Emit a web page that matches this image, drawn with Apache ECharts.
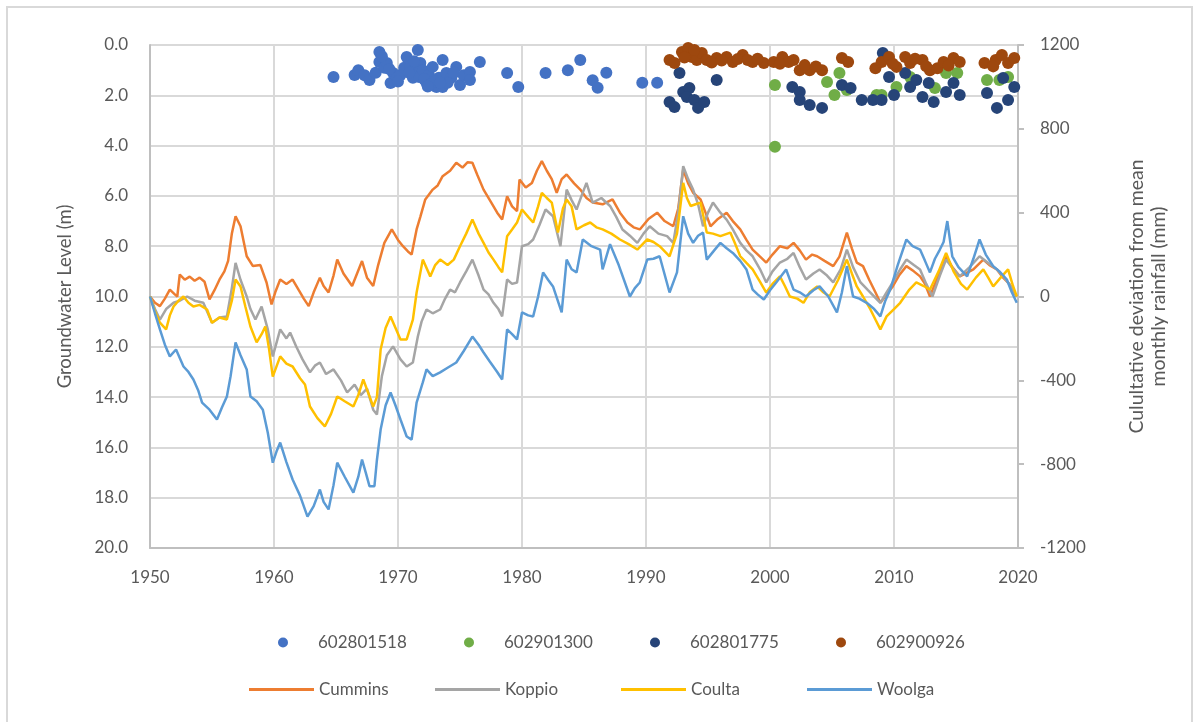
<!DOCTYPE html>
<html>
<head>
<meta charset="utf-8">
<title>Groundwater level and cumulative rainfall deviation</title>
<script src="https://cdn.jsdelivr.net/npm/echarts@6/dist/echarts.min.js"></script>
<style>
  html, body { margin: 0; padding: 0; background: #ffffff; }
  #chart { width: 1194px; height: 722px; }
</style>
</head>
<body>
<div id="chart"></div>
<script>
// Decade ticks on the time axis
const yearTicks = [1950, 1960, 1970, 1980, 1990, 2000, 2010, 2020];

// Observation bores: [year, depth to groundwater (m)]
const bore602801518 = [
  [1964.8,1.27],[1966.5,1.19],[1966.8,1.0],[1967.3,1.2],[1967.7,1.39],[1968.2,1.1],[1968.5,0.28],[1968.5,0.68],
  [1968.9,0.9],[1969.1,0.72],[1969.4,1.51],[1969.6,1.11],[1969.9,1.3],[1970.2,1.19],[1970.5,0.9],[1970.7,0.48],
  [1971.0,0.87],[1971.2,1.3],[1971.4,1.0],[1971.6,0.2],[1971.8,0.72],[1971.7,1.27],[1972.0,1.0],[1972.3,1.51],
  [1972.5,1.2],[1972.8,0.87],[1973.1,1.67],[1973.3,1.3],[1973.6,0.6],[1973.6,1.67],[1973.9,1.11],[1974.3,1.3],
  [1974.7,0.87],[1975.0,1.59],[1975.3,1.2],[1975.8,1.07],[1975.8,1.39],[1976.6,0.68],[1978.8,1.11],[1979.7,1.67],
  [1981.9,1.11],[1983.7,1.0],[1984.7,0.6],[1985.7,1.4],[1986.1,1.7],[1986.8,1.1],[1989.7,1.5],[1990.9,1.5],
  [1968.7,0.45],[1970.0,1.45],[1970.9,1.1],[1972.1,1.35],[1972.6,1.55],[1973.0,1.45],[1974.0,1.5],[1974.5,1.1],
  [1969.3,0.95],[1971.3,0.65],[1972.4,1.65],[1973.4,1.5]
];
const bore602901300 = [
  [2000.4,1.59],[2000.4,4.05],[2004.6,1.47],[2005.2,1.99],[2005.6,1.11],[2006.2,1.79],[2008.6,1.99],[2009.0,1.99],
  [2010.2,1.67],[2011.3,1.27],[2013.3,1.71],[2014.2,1.11],[2015.1,1.11],[2017.5,1.39],[2018.5,1.39],[2019.2,1.27]
];
const bore602801775 = [
  [1992.7,1.11],[1991.9,2.27],[1992.3,2.47],[1993.0,1.87],[1993.5,1.71],[1993.3,2.07],[1993.9,2.19],[1994.2,2.5],
  [1994.7,2.27],[1995.7,1.39],[2001.8,1.67],[2002.4,1.87],[2002.4,2.19],[2003.2,2.39],[2004.2,2.5],[2005.8,1.59],
  [2006.5,1.71],[2007.4,2.19],[2008.3,2.19],[2009.0,2.19],[2009.1,0.32],[2009.6,1.27],[2010.0,1.99],[2010.9,1.11],
  [2011.3,1.67],[2011.8,1.39],[2012.3,2.07],[2012.8,1.51],[2013.2,2.27],[2014.2,1.87],[2014.8,1.51],[2015.3,1.99],
  [2017.5,1.91],[2018.3,2.5],[2018.8,1.31],[2019.2,2.19],[2019.7,1.67]
];
const bore602900926 = [
  [1991.9,0.6],[1992.3,0.72],[1992.9,0.28],[1993.4,0.12],[1993.7,0.48],[1994.1,0.6],[1994.5,0.32],[1994.9,0.6],
  [1995.7,0.52],[1996.5,0.48],[1997.0,0.68],[1997.8,0.4],[1998.6,0.68],[1999.5,0.72],[2000.3,0.68],[2001.0,0.48],
  [2001.5,0.68],[2001.9,0.6],[2002.4,1.0],[2003.2,1.0],[2004.2,1.0],[2005.8,0.52],[2006.3,0.68],[2008.5,0.92],
  [2009.0,0.68],[2009.6,0.48],[2010.2,0.87],[2010.9,0.48],[2011.3,0.72],[2012.3,0.6],[2012.9,1.0],[2013.5,0.92],
  [2014.0,0.68],[2014.8,0.52],[2015.3,0.68],[2017.3,0.72],[2018.2,0.6],[2018.7,0.4],[2019.2,0.72],[2019.7,0.52],
  [1993.1,0.5],[1993.9,0.2],[1995.3,0.7],[1996.1,0.62],[1997.4,0.56],[1998.2,0.6],[1999.0,0.55],[2000.8,0.75],
  [2002.8,0.8],[2003.7,0.85],[2009.9,0.75],[2011.7,0.55],[2012.6,0.85],[2014.4,0.82],[2018.0,0.85]
];

// Rainfall stations: [year, cumulative deviation from mean monthly rainfall (mm)]
const cummins = [
  [1950.0,0],[1950.4,-30],[1950.8,-46],[1951.2,-10],[1951.6,33],[1952.0,10],[1952.2,0],[1952.4,105],[1952.8,80],
  [1953.2,95],[1953.6,75],[1954.0,90],[1954.4,70],[1954.8,-14],[1955.2,30],[1955.6,80],[1956.0,120],[1956.3,170],
  [1956.6,300],[1956.9,383],[1957.3,335],[1957.8,192],[1958.3,145],[1958.9,150],[1959.4,67],[1959.8,-38],[1960.1,20],
  [1960.5,81],[1961.0,60],[1961.5,81],[1962.0,30],[1962.4,-10],[1962.8,-46],[1963.2,20],[1963.7,90],[1964.0,50],
  [1964.4,19],[1964.8,100],[1965.1,176],[1965.6,110],[1966.3,50],[1966.7,110],[1967.1,169],[1967.5,90],[1968.0,50],
  [1968.4,150],[1968.9,256],[1969.5,320],[1970.0,270],[1970.4,240],[1970.8,215],[1971.1,200],[1971.5,320],[1971.8,380],
  [1972.2,463],[1972.8,510],[1973.2,530],[1973.6,574],[1974.2,600],[1974.7,638],[1975.2,615],[1975.6,640],[1976.0,638],
  [1976.4,580],[1976.9,510],[1977.5,450],[1978.0,400],[1978.4,367],[1978.8,478],[1979.2,430],[1979.6,407],[1979.8,558],
  [1980.3,520],[1980.8,542],[1981.2,600],[1981.6,646],[1982.0,600],[1982.4,560],[1982.8,495],[1983.2,560],[1983.6,582],
  [1984.2,540],[1984.7,510],[1985.2,470],[1985.7,448],[1986.5,440],[1987.3,463],[1987.9,400],[1988.5,353],[1989.0,330],
  [1989.5,320],[1990.2,370],[1990.9,400],[1991.5,360],[1992.2,335],[1992.6,420],[1993.0,606],[1993.4,540],[1993.8,495],
  [1994.4,463],[1994.8,400],[1995.2,335],[1995.8,370],[1996.5,400],[1997.0,360],[1997.6,320],[1998.1,270],[1998.6,224],
  [1999.2,190],[1999.7,162],[2000.2,200],[2000.8,240],[2001.4,230],[2001.9,256],[2002.4,220],[2002.9,176],[2003.4,200],
  [2003.8,192],[2004.4,170],[2005.1,145],[2005.6,190],[2006.2,305],[2006.6,230],[2007.0,162],[2007.5,145],[2008.0,80],
  [2008.5,20],[2008.9,-30],[2009.4,10],[2009.9,48],[2010.4,100],[2011.0,145],[2011.6,120],[2012.1,96],[2012.5,60],
  [2012.9,0],[2013.5,90],[2014.2,192],[2014.7,140],[2015.3,96],[2015.8,110],[2016.4,129],[2017.2,176],[2017.7,150],
  [2018.3,129],[2018.8,90],[2019.3,60],[2019.9,0]
];
const koppio = [
  [1950.0,0],[1950.4,-60],[1950.8,-110],[1951.3,-60],[1951.9,-30],[1952.4,-20],[1953.0,0],[1953.6,-20],[1954.3,-30],
  [1955.0,-125],[1955.6,-100],[1956.2,-95],[1956.6,40],[1956.9,160],[1957.3,80],[1957.8,0],[1958.1,-60],[1958.5,-110],
  [1959.0,-48],[1959.5,-157],[1959.9,-286],[1960.5,-157],[1961.0,-200],[1961.3,-172],[1961.8,-240],[1962.3,-300],
  [1962.9,-362],[1963.3,-330],[1963.7,-315],[1964.2,-370],[1964.8,-348],[1965.4,-400],[1965.9,-458],[1966.5,-420],
  [1967.0,-470],[1967.5,-440],[1968.0,-540],[1968.3,-563],[1968.7,-380],[1969.1,-280],[1969.6,-238],[1970.2,-300],
  [1970.7,-334],[1971.2,-315],[1971.6,-191],[1971.9,-120],[1972.3,-62],[1972.8,-80],[1973.4,-62],[1973.8,-10],
  [1974.2,33],[1974.6,20],[1975.0,67],[1975.5,120],[1976.0,176],[1976.5,100],[1976.9,33],[1977.3,10],[1977.7,-30],
  [1978.1,-60],[1978.4,-95],[1978.8,81],[1979.2,60],[1979.6,67],[1980.0,240],[1980.5,250],[1980.9,272],[1981.4,340],
  [1981.9,415],[1982.5,383],[1983.1,240],[1983.6,510],[1984.0,460],[1984.4,415],[1984.8,480],[1985.2,542],[1985.7,448],
  [1986.4,470],[1987.1,432],[1987.6,380],[1988.1,320],[1988.7,290],[1989.3,256],[1989.8,300],[1990.3,335],[1991.0,300],
  [1991.7,288],[1992.2,256],[1992.6,400],[1993.0,622],[1993.4,560],[1993.8,510],[1994.2,440],[1994.6,335],[1995.0,400],
  [1995.4,448],[1996.0,400],[1996.5,367],[1997.0,320],[1997.6,256],[1998.1,220],[1998.6,192],[1999.2,130],[1999.7,67],
  [2000.2,120],[2000.8,162],[2001.4,180],[2001.9,208],[2002.4,140],[2002.9,81],[2003.5,110],[2004.0,129],[2004.6,100],
  [2005.1,67],[2005.7,130],[2006.2,224],[2006.7,140],[2007.3,67],[2007.9,30],[2008.4,0],[2008.9,-30],[2009.4,20],
  [2009.9,67],[2010.5,130],[2011.0,176],[2011.6,150],[2012.1,129],[2012.6,60],[2013.1,0],[2013.7,100],[2014.2,176],
  [2014.8,130],[2015.3,96],[2016.1,140],[2016.9,192],[2017.6,160],[2018.3,129],[2018.9,90],[2019.4,50],[2019.9,0]
];
const coulta = [
  [1950.0,0],[1950.4,-70],[1950.8,-125],[1951.3,-157],[1951.6,-90],[1951.9,-48],[1952.3,-20],[1952.7,0],[1953.1,-30],
  [1953.5,-48],[1954.0,-40],[1954.6,-62],[1955.0,-125],[1955.6,-100],[1956.2,-110],[1956.6,-20],[1956.9,81],[1957.3,48],
  [1957.7,-50],[1958.1,-143],[1958.6,-219],[1959.0,-180],[1959.3,-143],[1959.6,-250],[1959.9,-382],[1960.5,-286],
  [1961.0,-320],[1961.5,-334],[1962.1,-390],[1962.5,-420],[1962.9,-525],[1963.5,-580],[1964.1,-620],[1964.6,-560],
  [1965.1,-477],[1965.7,-500],[1966.4,-525],[1966.8,-470],[1967.2,-396],[1967.6,-460],[1968.0,-525],[1968.3,-480],
  [1968.6,-253],[1969.0,-150],[1969.4,-95],[1969.8,-150],[1970.2,-205],[1970.7,-205],[1971.2,-110],[1971.5,19],
  [1972.0,176],[1972.6,96],[1973.0,150],[1973.4,176],[1974.0,150],[1974.5,176],[1975.0,240],[1975.5,300],[1976.0,367],
  [1976.5,300],[1976.9,256],[1977.3,210],[1977.7,176],[1978.1,140],[1978.4,115],[1978.8,288],[1979.2,320],[1979.6,353],
  [1980.0,415],[1980.5,380],[1980.9,353],[1981.3,430],[1981.6,495],[1982.0,470],[1982.4,448],[1982.9,305],[1983.3,420],
  [1983.6,463],[1984.0,430],[1984.4,320],[1985.0,340],[1985.5,353],[1986.0,330],[1986.5,320],[1987.2,300],[1987.9,272],
  [1988.6,250],[1989.3,224],[1990.1,272],[1990.6,260],[1991.1,240],[1991.9,192],[1992.5,300],[1993.0,542],[1993.3,470],
  [1993.6,432],[1994.0,440],[1994.4,448],[1994.9,305],[1995.4,300],[1996.0,288],[1996.8,305],[1997.2,250],[1997.6,192],
  [1998.1,160],[1998.6,129],[1999.2,70],[1999.7,19],[2000.2,60],[2000.8,96],[2001.2,50],[2001.6,0],[2002.2,-10],
  [2002.7,-30],[2003.2,20],[2003.8,48],[2004.3,20],[2004.8,0],[2005.5,80],[2006.2,176],[2006.6,110],[2007.0,48],
  [2007.5,0],[2008.1,-62],[2008.5,-110],[2008.9,-157],[2009.4,-95],[2010.0,-60],[2010.5,-30],[2011.2,30],[2011.8,67],
  [2012.4,50],[2012.9,33],[2013.6,120],[2014.2,208],[2014.8,120],[2015.4,60],[2015.9,33],[2016.6,90],[2017.2,129],
  [2017.6,90],[2018.0,48],[2018.6,90],[2019.2,129],[2019.6,50],[2019.9,0]
];
const woolga = [
  [1950.0,0],[1950.4,-80],[1950.8,-157],[1951.2,-230],[1951.6,-286],[1952.1,-253],[1952.7,-334],[1953.1,-360],
  [1953.5,-396],[1953.9,-450],[1954.2,-506],[1954.8,-540],[1955.4,-587],[1955.8,-530],[1956.2,-477],[1956.5,-380],
  [1956.9,-219],[1957.3,-280],[1957.8,-348],[1958.1,-477],[1958.6,-500],[1959.1,-540],[1959.5,-650],[1959.9,-793],
  [1960.2,-740],[1960.5,-697],[1961.0,-790],[1961.5,-873],[1962.1,-950],[1962.7,-1050],[1963.2,-1000],[1963.7,-921],
  [1964.0,-980],[1964.4,-1016],[1964.8,-900],[1965.1,-793],[1965.7,-860],[1966.4,-936],[1966.8,-860],[1967.1,-778],
  [1967.4,-840],[1967.7,-905],[1968.1,-905],[1968.3,-780],[1968.6,-635],[1969.0,-520],[1969.4,-458],[1969.8,-520],
  [1970.2,-587],[1970.7,-668],[1971.1,-683],[1971.5,-506],[1972.0,-410],[1972.3,-348],[1972.8,-380],[1973.4,-362],
  [1974.0,-340],[1974.7,-315],[1975.3,-260],[1976.0,-191],[1976.5,-230],[1976.9,-267],[1977.4,-310],[1978.0,-360],
  [1978.4,-396],[1978.8,-157],[1979.2,-180],[1979.6,-205],[1980.0,-76],[1980.5,-90],[1980.9,-95],[1981.3,0],
  [1981.7,115],[1982.1,80],[1982.5,48],[1983.2,-76],[1983.6,176],[1984.0,130],[1984.4,115],[1984.9,272],[1985.6,240],
  [1986.3,224],[1986.5,129],[1987.1,250],[1987.8,150],[1988.7,0],[1989.1,40],[1989.5,67],[1990.1,176],[1990.6,180],
  [1991.1,192],[1991.9,19],[1992.5,115],[1993.0,383],[1993.4,300],[1993.8,256],[1994.2,290],[1994.6,305],[1994.9,176],
  [1995.5,220],[1996.0,256],[1996.5,230],[1997.0,208],[1997.6,170],[1998.1,129],[1998.6,33],[1999.0,10],[1999.5,-14],
  [2000.0,30],[2000.5,67],[2001.3,129],[2001.9,33],[2002.4,20],[2002.9,0],[2003.5,30],[2004.0,48],[2004.7,0],
  [2005.4,-76],[2005.8,20],[2006.2,145],[2006.7,0],[2007.2,-10],[2007.8,-30],[2008.4,-60],[2008.9,-95],[2009.3,-20],
  [2009.7,33],[2010.3,150],[2011.0,272],[2011.5,240],[2012.1,224],[2012.5,170],[2012.9,115],[2013.3,180],[2013.7,224],
  [2014.0,260],[2014.3,360],[2014.7,192],[2015.2,140],[2015.9,96],[2016.4,180],[2016.9,272],[2017.4,200],[2018.0,145],
  [2018.5,120],[2019.1,81],[2019.5,20],[2019.9,-30]
];

const boreNames = ['602801518', '602901300', '602801775', '602900926'];
const stationNames = ['Cummins', 'Koppio', 'Coulta', 'Woolga'];
const boreColors = ['#4472C4', '#70AD47', '#264478', '#9E480E'];
const stationColors = ['#ED7D31', '#A5A5A5', '#FFC000', '#5B9BD5'];

const FONT = 'Lato, "Open Sans", sans-serif';
const TEXT = '#595959';
const GRID = '#D9D9D9';
const AXIS = '#BFBFBF';

const chart = echarts.init(document.getElementById('chart'), null, { renderer: 'canvas' });

const boreData = [bore602801518, bore602901300, bore602801775, bore602900926];
const stationData = [cummins, koppio, coulta, woolga];

const lineSeries = stationNames.map((name, i) => ({
  name, type: 'line', yAxisIndex: 1, data: stationData[i],
  showSymbol: false, smooth: false, z: 2,
  lineStyle: { color: stationColors[i], width: 2.5 },
  itemStyle: { color: stationColors[i] }
}));
const scatterSeries = boreNames.map((name, i) => ({
  name, type: 'scatter', yAxisIndex: 0, data: boreData[i],
  symbol: 'circle', symbolSize: 12, z: 3,
  itemStyle: { color: boreColors[i], opacity: 1 }
}));

// One legend per entry so every item sits on its own fixed slot
const boreLegends = boreNames.map((name, i) => ({
  data: [name], left: 273 + i * 186, top: 629, icon: 'circle',
  itemWidth: 10, itemHeight: 10, selectedMode: false,
  textStyle: { color: TEXT, fontSize: 17, fontFamily: FONT, padding: [0, 0, 0, 25] }
}));
const stationLegends = stationNames.map((name, i) => ({
  data: [name], left: 244 + i * 186, top: 676, icon: 'rect',
  itemWidth: 65, itemHeight: 3, selectedMode: false,
  textStyle: { color: TEXT, fontSize: 17, fontFamily: FONT }
}));

chart.setOption({
  animation: false,
  backgroundColor: '#ffffff',
  textStyle: { fontFamily: FONT },
  grid: { left: 150, right: 176, top: 45, bottom: 174, containLabel: false },
  xAxis: {
    type: 'value', min: yearTicks[0], max: yearTicks[yearTicks.length - 1], interval: 10,
    axisLine: { show: true, onZero: false, lineStyle: { color: AXIS, width: 2 } },
    axisTick: { show: false },
    splitLine: { show: true, lineStyle: { color: GRID, width: 2 } },
    axisLabel: { color: TEXT, fontSize: 17, fontFamily: FONT, margin: 21, formatter: v => String(v) }
  },
  yAxis: [
    {
      type: 'value', inverse: true, min: 0, max: 20, interval: 2, position: 'left',
      name: 'Groundwater Level (m)', nameLocation: 'middle', nameRotate: 90, nameGap: 75,
      nameTextStyle: { color: TEXT, fontSize: 18.5, fontFamily: FONT },
      axisLine: { show: true, onZero: false, lineStyle: { color: AXIS, width: 2 } },
      axisTick: { show: false },
      splitLine: { show: true, lineStyle: { color: GRID, width: 2 } },
      axisLabel: { color: TEXT, fontSize: 17, fontFamily: FONT, margin: 22, formatter: v => v.toFixed(1) }
    },
    {
      type: 'value', min: -1200, max: 1200, interval: 400, position: 'right',
      name: 'Culultative deviation from mean\nmonthly rainfall (mm)', nameLocation: 'middle',
      nameRotate: 90, nameGap: 108,
      nameTextStyle: { color: TEXT, fontSize: 19.5, fontFamily: FONT, lineHeight: 22 },
      axisLine: { show: true, onZero: false, lineStyle: { color: AXIS, width: 2 } },
      axisTick: { show: true, inside: false, length: 6, lineStyle: { color: AXIS, width: 2 } },
      splitLine: { show: false },
      axisLabel: { color: TEXT, fontSize: 17, fontFamily: FONT, margin: 22, formatter: v => String(v) }
    }
  ],
  legend: boreLegends.concat(stationLegends),
  graphic: [{
    type: 'rect', silent: true, z: -1,
    shape: { x: 7, y: 7, width: 1185, height: 720 },
    style: { fill: 'none', stroke: GRID, lineWidth: 2 }
  }],
  series: lineSeries.concat(scatterSeries)
});
</script>
</body>
</html>
